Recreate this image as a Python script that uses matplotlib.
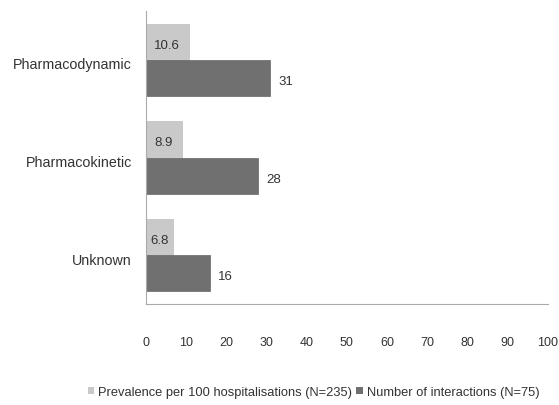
import matplotlib
matplotlib.use('Agg')
import matplotlib.pyplot as plt
from matplotlib.patches import Patch
import numpy as np

plt.rcParams['font.family'] = ['Liberation Sans', 'DejaVu Sans']

categories = ['Pharmacodynamic', 'Pharmacokinetic', 'Unknown']
prevalence = [10.6, 8.9, 6.8]
interactions = [31, 28, 16]
xticks = [0, 10, 20, 30, 40, 50, 60, 70, 80, 90, 100]
series_names = ['Prevalence per 100 hospitalisations (N=235)', 'Number of interactions (N=75)']

light = '#c9c9c9'
dark = '#707070'
text_col = '#333333'


def main():
    fig = plt.figure(figsize=(5.59, 4.06), dpi=100)
    ax = fig.add_axes([0.261, 0.249, 0.719, 0.721])

    y = np.arange(len(categories))
    h = 0.37
    ax.barh(y - h / 2, prevalence, height=h, color=light, edgecolor='#bdbdbd', linewidth=0.5)
    ax.barh(y + h / 2, interactions, height=h, color=dark, edgecolor='#666666', linewidth=0.5)

    # value labels
    for yi, v in zip(y, prevalence):
        ax.text(v / 2, yi - h / 2 + 0.03, str(v), ha='center', va='center', fontsize=9.5, color=text_col)
    for yi, v in zip(y, interactions):
        ax.text(v + 2, yi + h / 2 + 0.03, str(v), ha='left', va='center', fontsize=9.5, color=text_col)

    ax.set_xlim(0, 100)
    ax.set_ylim(2.5, -0.5)
    ax.set_yticks(y + 0.03)
    ax.set_yticklabels(categories, fontsize=10.3, color=text_col)
    ax.set_xticks(xticks)
    ax.set_xticklabels([str(t) for t in xticks], fontsize=9, color=text_col)
    ax.tick_params(axis='both', length=0)
    ax.tick_params(axis='x', pad=23)
    ax.tick_params(axis='y', pad=10)

    for side in ['top', 'right']:
        ax.spines[side].set_visible(False)
    ax.spines['left'].set_color('#aaaaaa')
    ax.spines['bottom'].set_color('#aaaaaa')

    handles = [Patch(facecolor=light, edgecolor='none'), Patch(facecolor=dark, edgecolor='none')]
    fig.legend(handles, series_names, loc='center', bbox_to_anchor=(0.561, 0.032), ncol=2, frameon=False,
               fontsize=9.3, handlelength=0.5, handleheight=0.5, handletextpad=0.3, columnspacing=0.3,
               labelcolor=text_col)

    fig.savefig('out.png', dpi=100, facecolor='w')
    plt.close('all')


if __name__ == '__main__':
    main()
